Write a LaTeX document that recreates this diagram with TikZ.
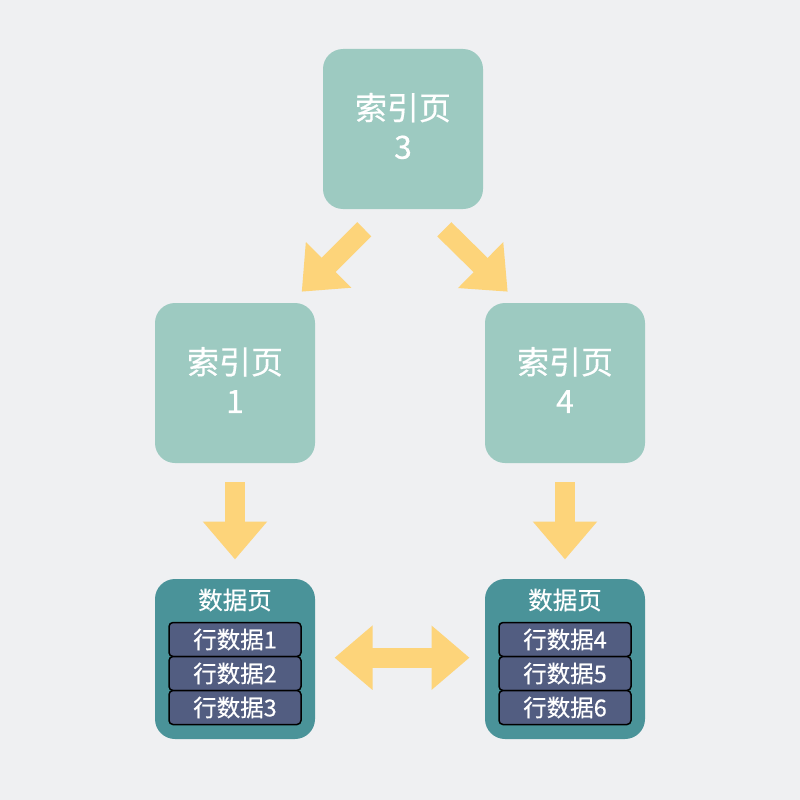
\documentclass[tikz,border=0pt]{standalone}
\usepackage{fontspec}
\setmainfont{Noto Sans CJK SC}[FakeBold=0.4]
\usetikzlibrary{arrows.meta}
\definecolor{bg}{HTML}{EFF0F2}
\definecolor{idx}{HTML}{9DCAC1}
\definecolor{dpage}{HTML}{4A9399}
\definecolor{rowc}{HTML}{525D81}
\definecolor{arr}{HTML}{FDD47A}
\tikzset{
  idxbox/.style={fill=idx, rounded corners=20pt, minimum width=160pt, minimum height=160pt,
    text=white, align=center, font=\fontsize{32}{39}\selectfont, inner sep=0pt},
  pagebox/.style={fill=dpage, rounded corners=20pt, minimum width=160pt, minimum height=160pt, inner sep=0pt},
  pagetitle/.style={text=white, font=\fontsize{24.5}{28}\selectfont, inner sep=0pt},
  rowbox/.style={fill=rowc, draw=black, line width=1.5pt, rounded corners=4pt, minimum width=132pt,
    minimum height=34pt, text=white, font=\fontsize{23.5}{26}\selectfont, inner sep=0pt},
  fat/.style={draw=arr, line width=20pt, -{Triangle[width=62pt,length=38pt,fill=arr,color=arr]}},
  fatboth/.style={draw=arr, line width=20pt, {Triangle[width=62pt,length=38pt,fill=arr,color=arr]}-{Triangle[width=62pt,length=38pt,fill=arr,color=arr]}}
}
\begin{document}
\begin{tikzpicture}[x=1pt,y=-1pt]
\fill[bg] (0,0) rectangle (800,800);
\useasboundingbox (0,0) rectangle (800,800);
\node[idxbox] (p3) at (403,129) {};
\node[idxbox] (p1) at (235,383) {};
\node[idxbox] (p4) at (565,383) {};
\node[idxbox, fill=none, minimum size=0pt] (l3) at (403,126) {索引页\\3};
\node[idxbox, fill=none, minimum size=0pt] (l1) at (235,380) {索引页\\1};
\node[idxbox, fill=none, minimum size=0pt] (l4) at (565,380) {索引页\\4};
\node[pagebox] (d1) at (235,659) {};
\node[pagebox] (d2) at (565,659) {};
\node[pagetitle] (t1) at (235,600) {数据页};
\node[pagetitle] (t2) at (565,600) {数据页};
\node[rowbox] (r1) at (235,639.5) {行数据1};
\node[rowbox] (r2) at (235,673.5) {行数据2};
\node[rowbox] (r3) at (235,707.5) {行数据3};
\node[rowbox] (r4) at (565,639.5) {行数据4};
\node[rowbox] (r5) at (565,673.5) {行数据5};
\node[rowbox] (r6) at (565,707.5) {行数据6};
% arrow endpoints
\coordinate (a1s) at (364.3,229.3);
\coordinate (a1e) at (301.7,291.7);
\coordinate (a2s) at (444.3,229.3);
\coordinate (a2e) at (507.7,291.7);
\coordinate (a3s) at (235,482);
\coordinate (a3e) at (235,559.5);
\coordinate (a4s) at (565,482);
\coordinate (a4e) at (565,559.5);
\coordinate (a5s) at (334.5,657.7);
\coordinate (a5e) at (469.5,657.7);
\draw[fat] (a1s) -- (a1e);
\draw[fat] (a2s) -- (a2e);
\draw[fat] (a3s) -- (a3e);
\draw[fat] (a4s) -- (a4e);
\draw[fatboth] (a5s) -- (a5e);
\end{tikzpicture}
\end{document}
